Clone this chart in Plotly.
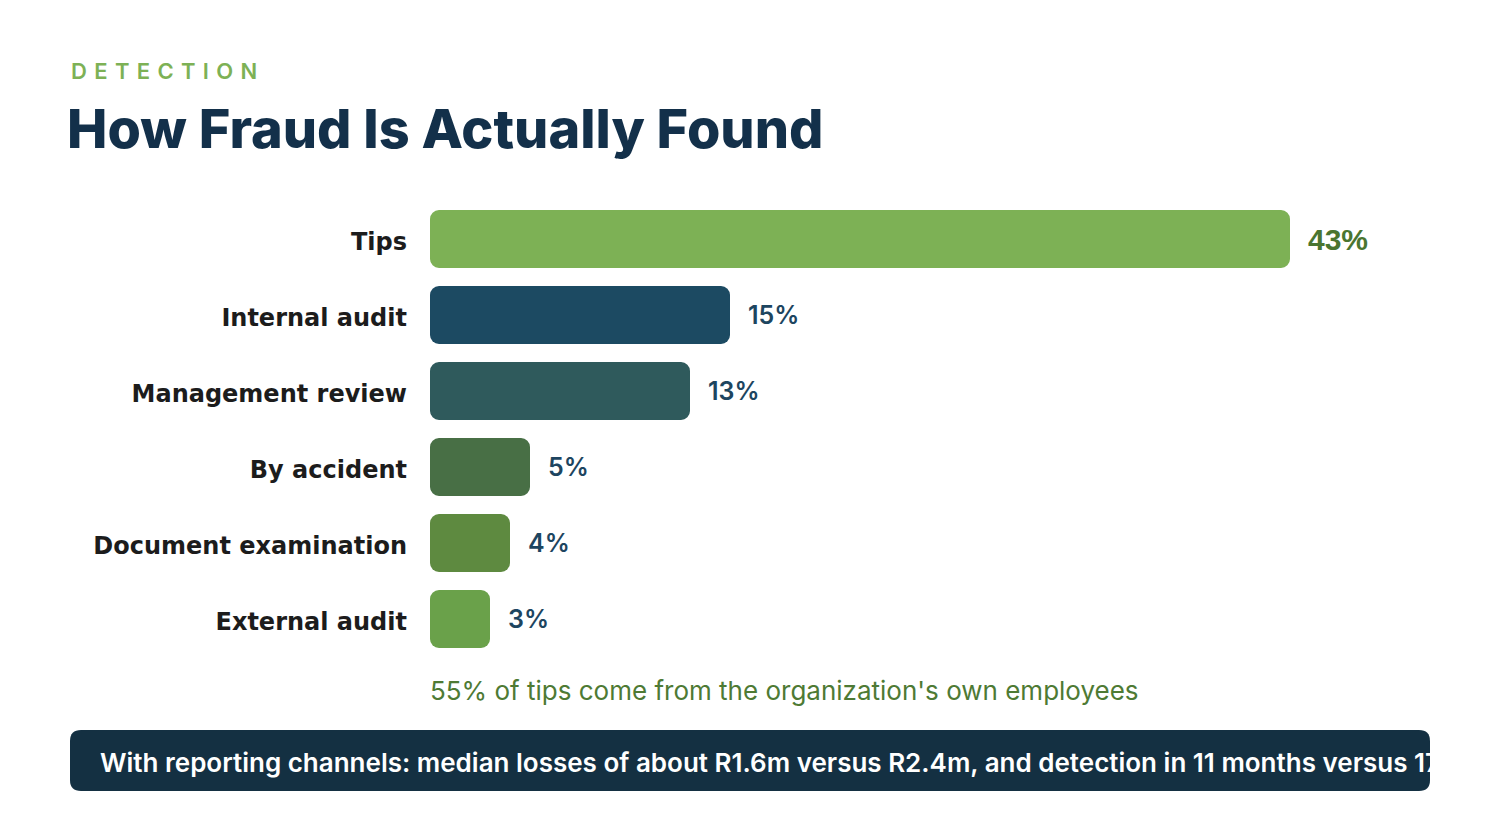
import plotly.graph_objects as go

W, H = 1500, 820
OFF = 8  # the page body adds an 8px margin around the figure

categories = ["Tips", "Internal audit", "Management review", "By accident",
              "Document examination", "External audit"]
shares = [43, 15, 13, 5, 4, 3]
bar_colors = ["#7db155", "#1c4a62", "#2f5a5c", "#486f45", "#5e8a40", "#6aa14a"]
label_colors = ["#4a7530", "#1d4560", "#1d4560", "#1d4560", "#1d4560", "#1d4560"]

kicker = "DETECTION"
title = "How Fraud Is Actually Found"
note = "55% of tips come from the organization's own employees"
banner = ("With reporting channels: median losses of about R1.6m versus R2.4m, "
          "and detection in 11 months versus 17 months")

FONT = "Inter, 'Open Sans', sans-serif"
LABEL_FONT = "'DejaVu Sans', Inter, sans-serif"


def px(x):
    return (x - OFF) / W


def py(y):
    return 1 - (y - OFF) / H


def rounded_rect(x0, y0, x1, y1, r):
    # path in paper coords, corners drawn with quadratic curves
    pts = [
        f"M {px(x0 + r)} {py(y0)}",
        f"L {px(x1 - r)} {py(y0)}",
        f"Q {px(x1)} {py(y0)} {px(x1)} {py(y0 + r)}",
        f"L {px(x1)} {py(y1 - r)}",
        f"Q {px(x1)} {py(y1)} {px(x1 - r)} {py(y1)}",
        f"L {px(x0 + r)} {py(y1)}",
        f"Q {px(x0)} {py(y1)} {px(x0)} {py(y1 - r)}",
        f"L {px(x0)} {py(y0 + r)}",
        f"Q {px(x0)} {py(y0)} {px(x0 + r)} {py(y0)}",
        "Z",
    ]
    return " ".join(pts)


fig = go.Figure()

# explicit base -> plotly rounds both ends of the bar
fig.add_trace(go.Bar(
    y=categories, x=shares, base=0, orientation="h",
    marker=dict(color=bar_colors, cornerradius=9, line=dict(width=0)),
    width=0.76, hoverinfo="skip", showlegend=False,
))

for cat, v, c in zip(categories, shares, label_colors):
    big = v == max(shares)
    fig.add_annotation(
        x=v, y=cat, text=f"{v}%", showarrow=False,
        xanchor="left", xshift=16,
        font=dict(family="'Liberation Sans', Arial, sans-serif" if big else FONT,
                  size=30 if big else 25, color=c,
                  weight=800 if big else 600),
    )

# banner text, clipped to the banner box through its own axes
fig.add_trace(go.Scatter(
    x=[30], y=[0.42], mode="text", text=[banner],
    textposition="middle right",
    textfont=dict(family=FONT, size=26, color="white", weight=600),
    cliponaxis=True, hoverinfo="skip", showlegend=False,
    xaxis="x2", yaxis="y2",
))

fig.update_layout(
    width=W, height=H,
    margin=dict(l=0, r=0, t=0, b=0, pad=0),
    paper_bgcolor="white", plot_bgcolor="rgba(0,0,0,0)",
    font=dict(family=FONT),
    xaxis=dict(domain=[px(430), 1], range=[0, (W - (430 - OFF)) / 20],
               visible=False, fixedrange=True),
    yaxis=dict(domain=[py(657), py(201)], range=[5.5, -0.5], type="category",
               showgrid=False, zeroline=False, showline=False, ticks="",
               ticklabelstandoff=22, ticklabelshift=-3, automargin=False,
               tickfont=dict(family=LABEL_FONT, size=24, color="#1c1c1c", weight=700)),
    xaxis2=dict(domain=[px(70), px(1430)], range=[0, 1360], visible=False),
    yaxis2=dict(domain=[py(791), py(730)], range=[0, 1], visible=False),
    shapes=[dict(type="path", xref="paper", yref="paper",
                 path=rounded_rect(70, 730, 1430, 791, 11),
                 fillcolor="#143042", line=dict(width=0), layer="below")],
    annotations=list(fig.layout.annotations) + [
        dict(xref="paper", yref="paper", x=px(69), y=py(71), xanchor="left", yanchor="middle",
             text="\u2004".join(kicker), showarrow=False,
             font=dict(family=FONT, size=22, color="#7db155", weight=600)),
        dict(xref="paper", yref="paper", x=px(65), y=py(128), xanchor="left", yanchor="middle",
             text=title, showarrow=False,
             font=dict(family=FONT, size=54, color="#13304a", weight=800)),
        dict(xref="paper", yref="paper", x=px(428), y=py(690), xanchor="left", yanchor="middle",
             text=note, showarrow=False,
             font=dict(family=FONT, size=26, color="#4e7a34", weight=400)),
    ],
)

fig.write_html("out.html")
